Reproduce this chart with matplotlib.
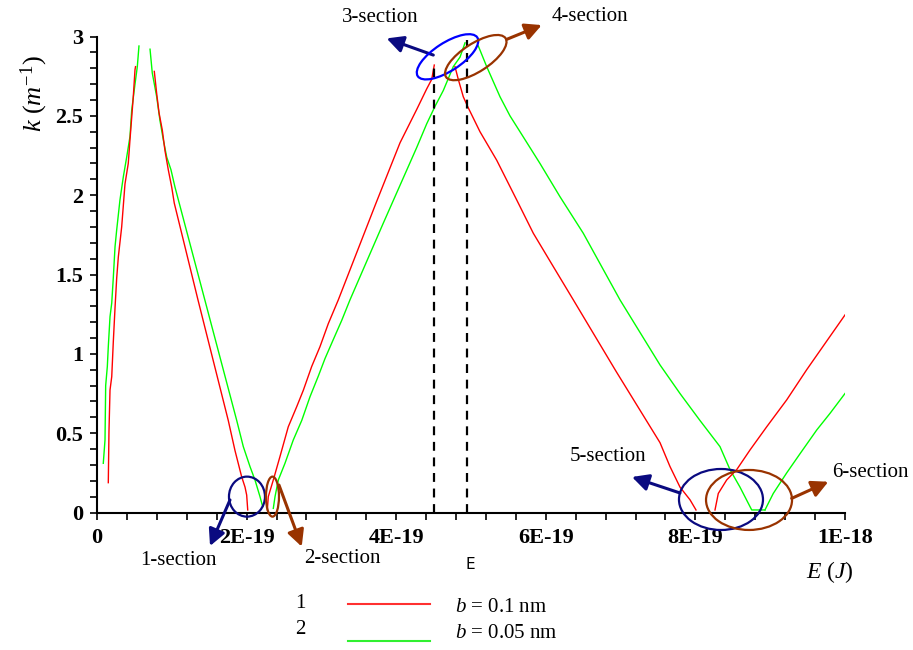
import numpy as np
import matplotlib.pyplot as plt
from matplotlib.patches import Ellipse
from matplotlib.lines import Line2D
from matplotlib.transforms import IdentityTransform

plt.rcParams['font.family'] = ['Liberation Serif', 'DejaVu Serif']
plt.rcParams['mathtext.fontset'] = 'custom'
plt.rcParams['mathtext.rm'] = 'Liberation Serif'
plt.rcParams['mathtext.it'] = 'Liberation Serif:italic'

# energies in units of 1E-19 J, one list per branch
red_E = [
    [0.151, 0.160, 0.174, 0.197, 0.218, 0.241, 0.263, 0.285, 0.330, 0.374, 0.418, 0.441, 0.464, 0.485, 0.508, 0.515],
    [0.766, 0.798, 0.829, 0.873, 0.909, 0.953, 0.999, 1.033, 1.350, 1.755, 1.845, 1.934, 1.979, 2.001, 2.015],
    [2.277, 2.290, 2.357, 2.447, 2.557, 2.670, 2.758, 2.870, 2.981, 3.092, 3.226, 3.730, 4.051, 4.274, 4.408, 4.475, 4.509],
    [4.786, 4.830, 4.897, 4.964, 5.120, 5.344, 5.611, 5.833, 6.100, 6.368, 6.939, 7.527, 7.660, 7.794, 7.928, 8.008],
    [8.262, 8.306, 8.418, 8.552, 8.730, 8.953, 9.221, 9.488, 9.755, 10.0],
]
red_k = [
    [0.188, 0.509, 0.772, 0.856, 1.076, 1.29, 1.475, 1.61, 1.80, 2.07, 2.20, 2.35, 2.49, 2.62, 2.79, 2.81],
    [2.78, 2.64, 2.52, 2.41, 2.28, 2.16, 2.05, 1.95, 1.34, 0.58, 0.39, 0.225, 0.16, 0.11, 0.016],
    [0.016, 0.10, 0.205, 0.354, 0.54, 0.667, 0.77, 0.92, 1.045, 1.19, 1.34, 1.95, 2.33, 2.54, 2.67, 2.73, 2.82],
    [2.81, 2.73, 2.62, 2.55, 2.40, 2.22, 1.97, 1.76, 1.55, 1.34, 0.89, 0.44, 0.29, 0.16, 0.08, 0.016],
    [0.016, 0.12, 0.205, 0.27, 0.394, 0.54, 0.71, 0.90, 1.08, 1.245],
]
green_E = [
    [0.084, 0.107, 0.116, 0.138, 0.151, 0.174, 0.197, 0.218, 0.241, 0.263, 0.307, 0.352, 0.397, 0.441, 0.464, 0.508, 0.539, 0.561],
    [0.709, 0.739, 0.798, 0.842, 0.886, 0.932, 0.989, 1.043, 1.868, 1.956, 2.045, 2.112, 2.179, 2.215],
    [2.357, 2.380, 2.424, 2.513, 2.624, 2.737, 2.848, 2.959, 3.048, 3.159, 3.271, 3.382, 3.824, 4.274, 4.408, 4.519, 4.630, 4.763, 4.853, 4.920],
    [5.098, 5.210, 5.388, 5.521, 5.655, 5.922, 6.190, 6.501, 6.992, 7.527, 7.794, 8.061, 8.329, 8.463, 8.596, 8.753, 8.930],
    [8.930, 9.041, 9.221, 9.398, 9.622, 9.800, 10.0],
]
green_k = [
    [0.31, 0.457, 0.80, 0.92, 1.045, 1.234, 1.32, 1.48, 1.675, 1.78, 1.97, 2.116, 2.24, 2.37, 2.536, 2.70, 2.81, 2.94],
    [2.92, 2.77, 2.62, 2.47, 2.35, 2.24, 2.16, 2.05, 0.58, 0.415, 0.29, 0.205, 0.10, 0.037],
    [0.026, 0.10, 0.205, 0.31, 0.457, 0.58, 0.73, 0.86, 0.97, 1.09, 1.21, 1.34, 1.82, 2.30, 2.45, 2.56, 2.66, 2.81, 2.87, 2.96],
    [2.94, 2.81, 2.62, 2.50, 2.40, 2.20, 1.99, 1.76, 1.34, 0.93, 0.75, 0.58, 0.415, 0.27, 0.16, 0.016, 0.016],
    [0.016, 0.12, 0.25, 0.37, 0.52, 0.625, 0.75],
]

peak_E = [4.509, 4.942]
peak_k = [2.83, 2.98]

x_ticks = [0, 2, 4, 6, 8, 10]
x_labels = ['0', '2E-19', '4E-19', '6E-19', '8E-19', '1E-18']
y_ticks = [0, 0.5, 1, 1.5, 2, 2.5, 3]
y_labels = ['0', '0.5', '1', '1.5', '2', '2.5', '3']

fig = plt.figure(figsize=(9.13, 6.5), dpi=100)
ax = fig.add_axes([97 / 913, 1 - 512.5 / 650, 748 / 913, 476 / 650])

for e, k in zip(green_E, green_k):
    ax.plot(np.array(e) * 1e-19, k, color='#00ff00', lw=1.0)
for e, k in zip(red_E, red_k):
    ax.plot(np.array(e) * 1e-19, k, color='#ff0000', lw=1.0)

for e, k in zip(peak_E, peak_k):
    ax.plot([e * 1e-19, e * 1e-19], [0, k], color='black', lw=1.6, ls=(0, (4, 3)))

ax.set_xlim(0, 1e-18)
ax.set_ylim(0, 3)
ax.spines['top'].set_visible(False)
ax.spines['right'].set_visible(False)
ax.spines['left'].set_linewidth(1.5)
ax.spines['bottom'].set_linewidth(1.5)

ax.set_xticks([t * 1e-19 for t in x_ticks])
ax.set_xticklabels(x_labels, fontweight='bold', fontsize=16)
ax.set_xticks(np.arange(0, 10.01, 0.4) * 1e-19, minor=True)
ax.set_yticks(y_ticks)
ax.set_yticklabels(y_labels, fontweight='bold', fontsize=16)
ax.set_yticks(np.arange(0, 3.01, 0.1), minor=True)
ax.tick_params(which='both', direction='out', length=5, width=1.2)
ax.tick_params(axis='x', pad=6)
ax.tick_params(axis='y', pad=5)

ax.text(-0.84e-19, 2.64, r'$k\ (m^{-1})$', rotation=90, fontsize=19, ha='center', va='center')
ax.text(9.80e-19, -0.375, r'$E\ (J)$', fontsize=17, ha='center', va='center')
ax.text(4.987e-19, -0.33, 'E', fontsize=11, family='DejaVu Sans', ha='center', va='center')

navy = '#0a0a80'
brown = '#993300'

# section markers: centre (E in 1E-19, k), size in pixels, angle, colour
rings = [
    (2.005, 0.10, 36, 40, 0, navy),
    (2.346, 0.10, 13, 40, 0, brown),
    (4.686, 2.872, 71, 28, 33, '#0000ff'),
    (5.064, 2.867, 71, 28, 33, brown),
    (8.342, 0.082, 84, 61, 0, navy),
    (8.717, 0.079, 86, 60, 0, brown),
]
for e, k, w, h, ang, c in rings:
    cx, cy = ax.transData.transform((e * 1e-19, k))
    fig.add_artist(Ellipse((cx, cy), w, h, angle=ang, fill=False, ec=c, lw=1.6,
                           transform=IdentityTransform()))

arrows = [
    ((1.778, 0.079), (1.511, -0.211), navy),
    ((2.433, 0.173), (2.737, -0.215), brown),
    ((4.496, 2.883), (3.872, 2.988), navy),
    ((5.477, 2.982), (5.945, 3.072), brown),
    ((7.794, 0.123), (7.152, 0.224), navy),
    ((9.287, 0.089), (9.777, 0.194), brown),
]
for (e0, k0), (e1, k1), c in arrows:
    ax.annotate('', xy=(e1 * 1e-19, k1), xytext=(e0 * 1e-19, k0),
                arrowprops=dict(arrowstyle='-|>,head_length=0.55,head_width=0.28', color=c,
                                lw=2.2, mutation_scale=18, shrinkA=0, shrinkB=0),
                annotation_clip=False)

labels = [
    ('1-section', 1.083, -0.30),
    ('2-section', 3.275, -0.287),
    ('3-section', 3.783, 3.122),
    ('4-section', 6.591, 3.129),
    ('5-section', 6.832, 0.350),
    ('6-section', 10.334, 0.255),
]
for s, e, k in labels:
    ax.text(e * 1e-19, k, s, fontsize=15, ha='center', va='center', clip_on=False)

# legend below the plot
fig.text(300 / 913, 1 - 603 / 650, '1', fontsize=15, ha='center', va='center')
fig.text(300 / 913, 1 - 629 / 650, '2', fontsize=15, ha='center', va='center')
fig.add_artist(Line2D([348 / 913, 430 / 913], [1 - 604 / 650] * 2, color='#ff3030', lw=1.5))
fig.add_artist(Line2D([348 / 913, 430 / 913], [1 - 641 / 650] * 2, color='#30f030', lw=1.5))
fig.text(455 / 913, 1 - 607 / 650, r'$b$ = 0.1 nm', fontsize=15, ha='left', va='center')
fig.text(455 / 913, 1 - 633 / 650, r'$b$ = 0.05 nm', fontsize=15, ha='left', va='center')

fig.savefig('out.png', dpi=100)
